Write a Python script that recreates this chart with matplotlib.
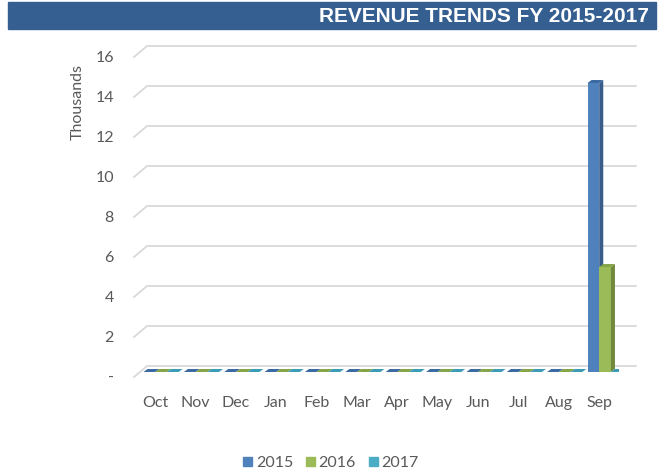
import matplotlib.pyplot as plt
import matplotlib.patches as mpatches
from matplotlib.transforms import ScaledTranslation
import numpy as np

# Monthly revenue, in thousands
months = ['Oct', 'Nov', 'Dec', 'Jan', 'Feb', 'Mar', 'Apr', 'May', 'Jun', 'Jul', 'Aug', 'Sep']
years = ['2015', '2016', '2017']
rev_2015 = [0, 0, 0, 0, 0, 0, 0, 0, 0, 0, 0, 14.45]
rev_2016 = [0, 0, 0, 0, 0, 0, 0, 0, 0, 0, 0, 5.25]
rev_2017 = [0, 0, 0, 0, 0, 0, 0, 0, 0, 0, 0, 0]
yticks = [0, 2, 4, 6, 8, 10, 12, 14, 16]

# front / side / top face colours per series
faces = {
    '2015': ('#4f81bd', '#385d8a', '#3c6aa3'),
    '2016': ('#9bbb59', '#71893f', '#86a548'),
    '2017': ('#4bacc6', '#31859c', '#3c9cb6'),
}

fig = plt.figure(figsize=(6.6, 4.72), dpi=100)
W, H = 660, 472

# title band
fig.patches.append(mpatches.Rectangle((8 / W, 1 - 29 / H), 648 / W, 27 / H,
                                      transform=fig.transFigure, color='#365f91', zorder=0))
fig.text(649 / W, 1 - 16 / H, 'REVENUE TRENDS FY 2015-2017', ha='right', va='center',
         color='white', fontsize=15, fontweight='bold', family='Liberation Sans')

ax = fig.add_axes([134.8 / W, 1 - 372 / H, 484.4 / W, 320 / H])
ax.set_xlim(-0.5, 11.5)
ax.set_ylim(0, 16)
for s in ax.spines.values():
    s.set_visible(False)

# 3D look: gridlines on the back wall with a short slanted stub on the left
x_front, x_wall, x_end = -0.52, -0.198, 11.91
for v in yticks:
    ax.plot([x_front, x_wall, x_end], [v - 0.25, v + 0.3, v + 0.3], color='#d9d9d9',
            lw=1.3, clip_on=False, zorder=1)

x = np.arange(len(months))
offsets = [-0.14, 0.15, 0.44]
width = 0.29
ddx, ddy = 0.1, 0.15  # depth of a bar, in data units

for k, (yr, vals) in enumerate(zip(years, [rev_2015, rev_2016, rev_2017])):
    front, side, top = faces[yr]
    xs = x + offsets[k]
    ax.bar(xs, vals, width=width, color=front, zorder=3 + k, linewidth=0)
    for xc, v in zip(xs, vals):
        x0, x1 = xc - width / 2, xc + width / 2
        if v > 0:
            ax.add_patch(mpatches.Polygon([(x1, 0), (x1 + ddx, ddy), (x1 + ddx, v + ddy), (x1, v)],
                                          closed=True, color=side, lw=0, zorder=3 + k))
        ax.add_patch(mpatches.Polygon([(x0, v), (x1, v), (x1 + ddx, v + ddy), (x0 + ddx, v + ddy)],
                                      closed=True, color=top, lw=0, zorder=3 + k))

label_font = dict(family='Lato', fontsize=11.5, color='#595959')
ax.set_xticks(x)
ax.set_xticklabels(months, **label_font)
ax.set_yticks(yticks)
ax.set_yticklabels(['-'] + [str(v) for v in yticks[1:]], **label_font)
ax.tick_params(axis='both', length=0)
ax.tick_params(axis='x', pad=17)
ax.tick_params(axis='y', pad=15)
for lab in ax.get_yticklabels():
    lab.set_transform(lab.get_transform() + ScaledTranslation(0, -4 / 100, fig.dpi_scale_trans))

fig.text(78 / W, 1 - 102 / H, 'Thousands', rotation=90, ha='center', va='center', **label_font)

handles = [mpatches.Patch(color=faces[yr][0], label=yr) for yr in years]
leg = fig.legend(handles=handles, loc='center', bbox_to_anchor=(331 / W, 1 - 463 / H), ncol=3,
                 frameon=False, handlelength=0.55, handleheight=0.55, handletextpad=0.25,
                 columnspacing=0.8, prop={'family': 'Lato', 'size': 11.5})
for t in leg.get_texts():
    t.set_color('#595959')

fig.savefig('out.png', dpi=100)
